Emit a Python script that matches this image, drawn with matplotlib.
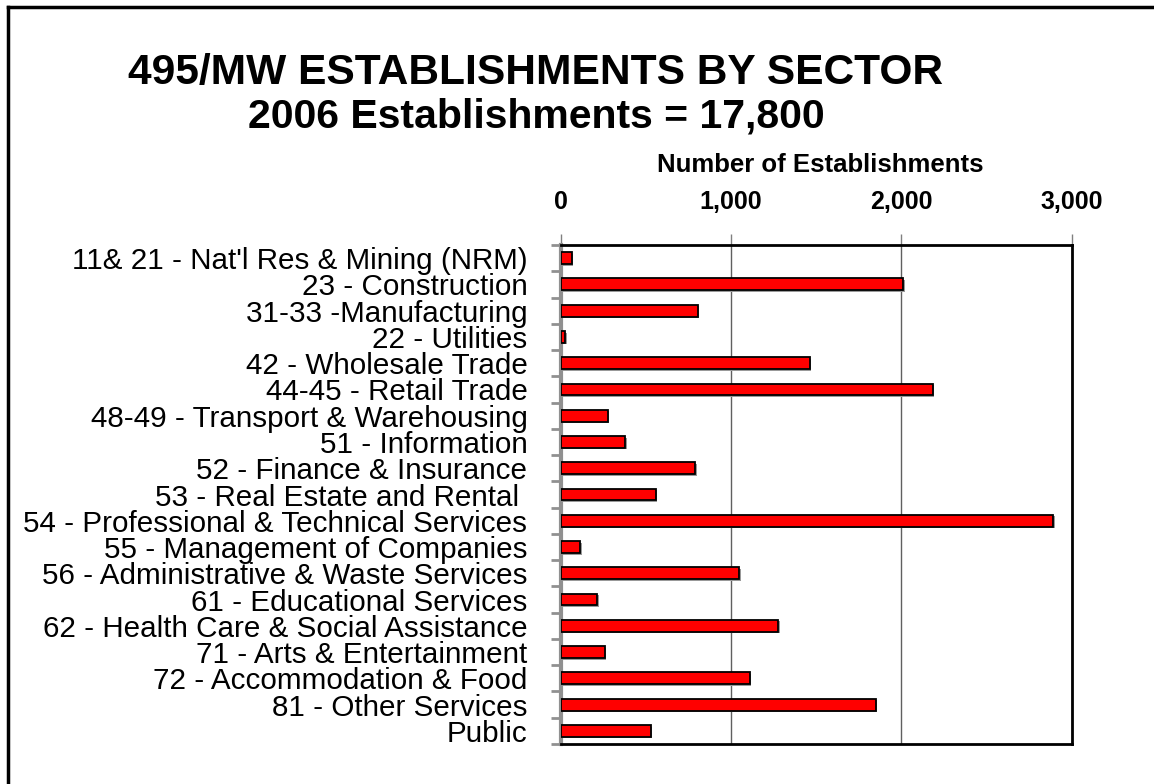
import numpy as np
import matplotlib.pyplot as plt
from matplotlib.lines import Line2D

plt.rcParams['font.family'] = ['Liberation Sans', 'DejaVu Sans']

# sectors, top to bottom
sectors = [
    "11& 21 - Nat'l Res & Mining (NRM)",
    "23 - Construction",
    "31-33 -Manufacturing",
    "22 - Utilities",
    "42 - Wholesale Trade",
    "44-45 - Retail Trade",
    "48-49 - Transport & Warehousing",
    "51 - Information",
    "52 - Finance & Insurance",
    "53 - Real Estate and Rental ",
    "54 - Professional & Technical Services",
    "55 - Management of Companies",
    "56 - Administrative & Waste Services",
    "61 - Educational Services",
    "62 - Health Care & Social Assistance",
    "71 - Arts & Entertainment",
    "72 - Accommodation & Food",
    "81 - Other Services",
    "Public",
]
establishments = [65, 2012, 806, 27, 1464, 2184, 276, 379, 790, 558,
                  2892, 115, 1049, 215, 1278, 260, 1111, 1850, 530]
xticks = [0, 1000, 2000, 3000]
xticklabels = ['0', '1,000', '2,000', '3,000']

fig = plt.figure(figsize=(11.54, 7.84), dpi=100)
ax = fig.add_axes([0.4859, 0.051, 0.4428, 0.6365])

y = np.arange(len(sectors))
# grey shadow then the red bar
ax.barh(y + 0.06, establishments, height=0.45, left=8, color='#999999', zorder=2)
ax.barh(y, establishments, height=0.45, color='#ff0000', edgecolor='black',
        linewidth=1.3, zorder=3)

ax.set_xlim(0, 3000)
ax.set_ylim(len(sectors) - 0.5, -0.5)
ax.xaxis.tick_top()
ax.set_xticks(xticks)
ax.set_xticklabels(xticklabels, fontsize=18, fontweight='bold')
ax.tick_params(axis='x', length=8, width=1, color='#808080', pad=14)
ax.grid(axis='x', color='#606060', linewidth=1, zorder=0)

ax.set_yticks(y)
ax.set_yticklabels(sectors, fontsize=21.3)
ax.set_yticks(np.arange(len(sectors) + 1) - 0.5, minor=True)
ax.tick_params(axis='y', which='major', length=0, pad=24)
ax.tick_params(axis='y', which='minor', length=7, width=2, color='#909090')

ax.spines['left'].set_color('#909090')
ax.spines['left'].set_linewidth(3)
for s in ['top', 'right', 'bottom']:
    ax.spines[s].set_color('black')
    ax.spines[s].set_linewidth(2)

fig.text(0.4645, 0.907, '495/MW ESTABLISHMENTS BY SECTOR', fontsize=30.6,
         fontweight='bold', ha='center', va='center')
fig.text(0.4645, 0.852, '2006 Establishments = 17,800', fontsize=29.5,
         fontweight='bold', ha='center', va='center')
fig.text(0.7106, 0.7895, 'Number of Establishments', fontsize=18.5,
         fontweight='bold', ha='center', va='center')

# frame around the slide (top and left only)
fig.add_artist(Line2D([8 / 1154, 1], [1 - 7 / 784, 1 - 7 / 784],
                      transform=fig.transFigure, color='black', linewidth=2.5))
fig.add_artist(Line2D([8 / 1154, 8 / 1154], [0, 1 - 7 / 784],
                      transform=fig.transFigure, color='black', linewidth=2.5))

fig.savefig('out.png', dpi=100)
